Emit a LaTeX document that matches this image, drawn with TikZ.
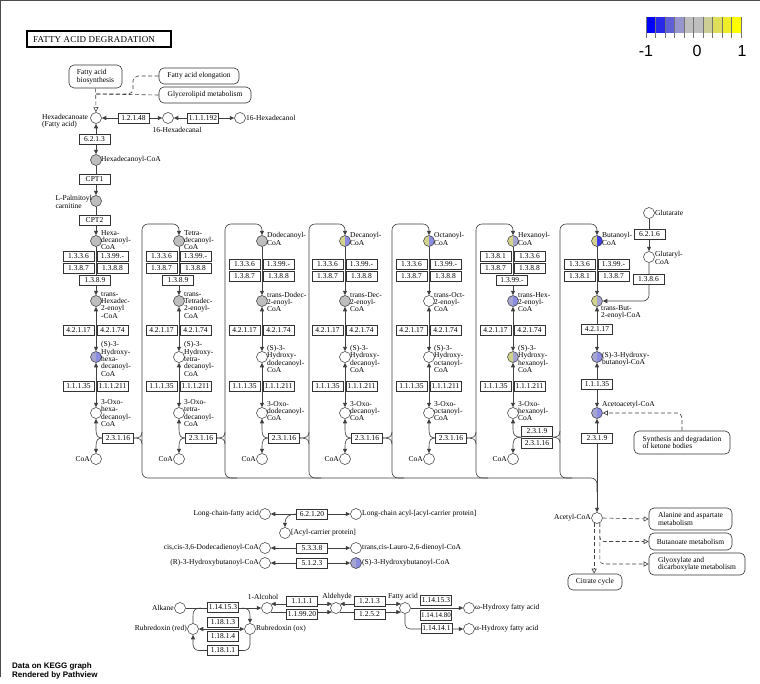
\documentclass[tikz,border=0pt]{standalone}
\usepackage{fontspec}
\setmainfont{Liberation Serif}
\newfontfamily\sansf{Liberation Sans}
\newfontfamily\titlef[LetterSpace=2]{Liberation Serif}
\usetikzlibrary{arrows.meta}
\pgfdeclarelayer{bg}
\pgfdeclarelayer{canvas}
\pgfsetlayers{canvas,bg,main}
\definecolor{kg}{RGB}{190,190,190}
\definecolor{lvA}{RGB}{165,165,208}
\definecolor{lvB}{RGB}{140,140,225}
\definecolor{khA}{RGB}{210,210,140}
\definecolor{bluB}{RGB}{60,60,235}
\definecolor{L1}{RGB}{0,0,255}
\definecolor{L2}{RGB}{40,40,235}
\definecolor{L3}{RGB}{95,95,215}
\definecolor{L4}{RGB}{150,150,205}
\definecolor{L5}{RGB}{190,190,190}
\definecolor{L6}{RGB}{190,190,190}
\definecolor{L7}{RGB}{205,205,150}
\definecolor{L8}{RGB}{222,222,90}
\definecolor{L9}{RGB}{238,238,40}
\definecolor{L10}{RGB}{255,255,0}
\tikzset{
  >={Triangle[length=4.5pt,width=4pt]},
  Opn/.tip={Triangle[open,length=5pt,width=5pt]},
  cpd/.style={circle,draw=black!80,line width=0.5pt,fill=white,minimum size=11pt,inner sep=0pt},
  gy/.style={fill=kg},
  wt/.style={},
  sp/.style 2 args={path picture={\fill[#1] (path picture bounding box.south west) rectangle (path picture bounding box.north);\fill[#2] (path picture bounding box.south) rectangle (path picture bounding box.north east);}},
  hA/.style={sp={lvA}{lvB}},
  kB/.style={sp={khA}{lvB}},
  kA/.style={sp={khA}{lvA}},
  kZ/.style={sp={khA}{bluB}},
  enz/.style={draw=black!80,line width=0.6pt,fill=white,minimum width=31pt,minimum height=10pt,inner sep=0pt,font=\fontsize{7.5}{7.5}\selectfont},
  enzs/.style={enz,font=\fontsize{7}{7}\selectfont},
  lbl/.style={inner sep=0pt,align=left,font=\fontsize{7.5}{7.3}\selectfont},
  mapbox/.style={draw=black!80,line width=0.6pt,rounded corners=5pt,fill=white,align=left,inner sep=0pt,font=\fontsize{7.5}{7.5}\selectfont},
  conn/.style={draw=black!75,line width=0.6pt},
  dsh/.style={draw=black!75,line width=0.6pt,dash pattern=on 4pt off 2.5pt},
}
\begin{document}
\begin{tikzpicture}[x=1pt,y=-1pt]
\useasboundingbox (0,0) rectangle (760,683);
\begin{pgfonlayer}{canvas}
\fill[white] (0,0) rectangle (760,683);
\end{pgfonlayer}
\draw[black!70,line width=1pt] (0.5,677) -- (0.5,0.5) -- (760,0.5);

% title
\node[draw=black,line width=1.2pt,minimum width=144pt,minimum height=16pt,inner sep=0pt] (ttl) at (99,39) {};
\node[anchor=west,inner sep=0pt,font=\titlef\fontsize{9}{9}\selectfont] (ttlt) at (33,39.5) {FATTY ACID DEGRADATION};

% legend
\foreach \c [count=\i from 0] in {L1,L2,L3,L4,L5,L6,L7,L8,L9,L10}
  \fill[\c] (646+\i*9.5,17) rectangle ++(9.5,16);
\foreach \i in {0,...,10}
  \draw[black!55,line width=0.5pt] (646+\i*9.5,17) -- ++(0,21);
\node[font=\sansf\fontsize{16}{16}\selectfont,inner sep=0pt] (lgm) at (646,51) {-1};
\node[font=\sansf\fontsize{16}{16}\selectfont,inner sep=0pt] (lgz) at (697,51) {0};
\node[font=\sansf\fontsize{16}{16}\selectfont,inner sep=0pt] (lgp) at (742,51) {1};

% top section
\node[mapbox,minimum width=53pt,minimum height=23pt] (bio) at (95.5,76.5) {Fatty acid\\biosynthesis};
\node[mapbox,minimum width=80pt,minimum height=16pt] (elong) at (199,76) {Fatty acid elongation};
\node[mapbox,minimum width=92pt,minimum height=16pt] (glyc) at (205,95) {Glycerolipid metabolism};
\node[cpd] (hxa) at (96,118) {};
\node[lbl,anchor=west] (thxa) at (42,121) {Hexadecanoate\\(Fatty acid)};
\node[enz] (r12148) at (133.5,118) {1.2.1.48};
\node[cpd] (hxal) at (168,118) {};
\node[lbl] (thxal) at (177,130) {16-Hexadecanal};
\node[enz] (r111192) at (203,118) {1.1.1.192};
\node[cpd] (hxol) at (240,118) {};
\node[lbl,anchor=west] (thxol) at (246,118) {16-Hexadecanol};
\node[enz] (r6213) at (94.5,139) {6.2.1.3};
\node[cpd,gy] (hdc) at (96,160) {};
\node[lbl,anchor=west] (thdc) at (101,160) {Hexadecanoyl-CoA};
\node[enz] (cpt1) at (94.5,179) {CPT1};
\node[cpd,gy] (palm) at (96,201) {};
\node[lbl,anchor=east] (tpalm) at (92,202) {L-Palmitoyl\\carnitine};
\node[enz] (cpt2) at (94.5,220) {CPT2};

% columns 1-6 compounds
\foreach \i/\x/\fA/\fE/\fH/\dya/\dye/\dyh/\dyo/\lA/\lE/\lH/\lO in {
 1/96/gy/gy/hA/-1/4/2/0/{Hexa-\\decanoyl-\\CoA}/{trans-\\Hexadec-\\2-enoyl\\-CoA}/{(S)-3-\\Hydroxy-\\hexa-\\decanoyl-\\CoA}/{3-Oxo-\\hexa-\\decanoyl-\\CoA},
 2/179/gy/gy/wt/-1/4/2/0/{Tetra-\\decanoyl-\\CoA}/{trans-\\Tetradec-\\2-enoyl-\\CoA}/{(S)-3-\\Hydroxy-\\tetra-\\decanoyl-\\CoA}/{3-Oxo-\\tetra-\\decanoyl-\\CoA},
 3/262/gy/gy/wt/-2/1/2/-2/{Dodecanoyl-\\CoA}/{trans-Dodec-\\2-enoyl-\\CoA}/{(S)-3-\\Hydroxy-\\dodecanoyl-\\CoA}/{3-Oxo-\\dodecanoyl-\\CoA},
 4/345/kB/gy/wt/-2/1/2/-2/{Decanoyl-\\CoA}/{trans-Dec-\\2-enoyl-\\CoA}/{(S)-3-\\Hydroxy-\\decanoyl-\\CoA}/{3-Oxo-\\decanoyl-\\CoA},
 5/429/kB/wt/wt/-2/1/2/-2/{Octanoyl-\\CoA}/{trans-Oct-\\2-enoyl-\\CoA}/{(S)-3-\\Hydroxy-\\octanoyl-\\CoA}/{3-Oxo-\\octanoyl-\\CoA},
 6/513/kA/hA/kA/-2/1/2/-2/{Hexanoyl-\\CoA}/{trans-Hex-\\2-enoyl-\\CoA}/{(S)-3-\\Hydroxy-\\hexanoyl-\\CoA}/{3-Oxo-\\hexanoyl-\\CoA}}
{
 \node[cpd,\fA] (a\i) at (\x,241) {};
 \node[lbl,anchor=west] (ta\i) at (\x+5,241+\dya) {\lA};
 \node[cpd,\fE] (e\i) at (\x,301) {};
 \node[lbl,anchor=west] (te\i) at (\x+5,301+\dye) {\lE};
 \node[cpd,\fH] (h\i) at (\x,357) {};
 \node[lbl,anchor=west] (th\i) at (\x+5,357+\dyh) {\lH};
 \node[cpd] (o\i) at (\x,413) {};
 \node[lbl,anchor=west] (to\i) at (\x+5,413+\dyo) {\lO};
 \node[cpd] (k\i) at (\x,459) {};
 \node[lbl,anchor=east] (tk\i) at (\x-6,459) {CoA};
 \node[enz] (dA\i) at (\x-17.5,330) {4.2.1.17};
 \node[enz] (dB\i) at (\x+16.5,330) {4.2.1.74};
 \node[enz] (yA\i) at (\x-17.5,386) {1.1.1.35};
 \node[enz] (yB\i) at (\x+16.5,386) {1.1.1.211};
}
\foreach \i/\x in {1/96,2/179,3/262,4/345,5/429}
 \node[enz] (g\i) at (\x+22,438) {2.3.1.16};

% dehydrogenase boxes
\node[enz] (b1a) at (78.5,256) {1.3.3.6};
\node[enz] (b1b) at (112.5,256) {1.3.99.-};
\node[enz] (b1c) at (78.5,268) {1.3.8.7};
\node[enz] (b1d) at (112.5,268) {1.3.8.8};
\node[enz] (b1e) at (95,280.5) {1.3.8.9};
\node[enz] (b2a) at (161.5,256) {1.3.3.6};
\node[enz] (b2b) at (195.5,256) {1.3.99.-};
\node[enz] (b2c) at (161.5,268) {1.3.8.7};
\node[enz] (b2d) at (195.5,268) {1.3.8.8};
\node[enz] (b2e) at (178,280.5) {1.3.8.9};
\foreach \i/\x in {3/262,4/345,5/429} {
 \node[enz] (b\i a) at (\x-17.5,264) {1.3.3.6};
 \node[enz] (b\i b) at (\x+16.5,264) {1.3.99.-};
 \node[enz] (b\i c) at (\x-17.5,276.5) {1.3.8.7};
 \node[enz] (b\i d) at (\x+16.5,276.5) {1.3.8.8};
}
\node[enz] (b6a) at (495.5,256) {1.3.8.1};
\node[enz] (b6b) at (529.5,256) {1.3.3.6};
\node[enz] (b6c) at (495.5,268) {1.3.8.7};
\node[enz] (b6d) at (529.5,268) {1.3.8.8};
\node[enz] (b6e) at (512,280.5) {1.3.99.-};
\node[enz] (g6a) at (537,431) {2.3.1.9};
\node[enz] (g6) at (537,443.5) {2.3.1.16};
\coordinate (j6L) at (521.5,437.2);
\coordinate (j6R) at (552.5,437.2);

% column 7
\node[cpd,kZ] (a7) at (597,241) {};
\node[lbl,anchor=west] (ta7) at (602,239) {Butanoyl-\\CoA};
\node[enz] (b7a) at (579.5,264) {1.3.3.6};
\node[enz] (b7b) at (613.5,264) {1.3.99.-};
\node[enz] (b7c) at (579.5,276.5) {1.3.8.1};
\node[enz] (b7d) at (613.5,276.5) {1.3.8.7};
\node[cpd,kA] (e7) at (597,301) {};
\node[lbl,anchor=north west] (te7) at (601,305) {trans-But-\\2-enoyl-CoA};
\node[enz] (dA7) at (597,329) {4.2.1.17};
\node[cpd,hA] (h7) at (597,357) {};
\node[lbl,anchor=west] (th7) at (602,359) {(S)-3-Hydroxy-\\butanoyl-CoA};
\node[enz] (yA7) at (597,384) {1.1.1.35};
\node[cpd,hA] (o7) at (597,413) {};
\node[lbl,anchor=west] (to7) at (602,405) {Acetoacetyl-CoA};
\node[enz] (g7) at (597,438) {2.3.1.9};
\node[mapbox,minimum width=96pt,minimum height=23pt] (keto) at (682,442.5) {Synthesis and degradation\\of ketone bodies};
\node[cpd] (glt) at (649,213) {};
\node[lbl,anchor=west] (tglt) at (655,213) {Glutarate};
\node[enz] (r6216) at (649.5,234) {6.2.1.6};
\node[cpd] (gltc) at (649,257) {};
\node[lbl,anchor=west] (tgltc) at (655,258) {Glutaryl-\\CoA};
\node[enz] (r1386) at (648.5,279.5) {1.3.8.6};

% acetyl-CoA
\node[cpd] (acc) at (597,518) {};
\node[lbl,anchor=east] (tacc) at (591,518) {Acetyl-CoA};
\node[mapbox,minimum width=83pt,minimum height=22pt] (ala) at (690.5,519) {Alanine and aspartate\\metabolism};
\node[mapbox,minimum width=83pt,minimum height=17pt] (but) at (690.5,541.5) {Butanoate metabolism};
\node[mapbox,minimum width=96pt,minimum height=22pt] (gly) at (697,564) {Glyoxylate and\\dicarboxylate metabolism};
\node[mapbox,minimum width=54pt,minimum height=16pt] (cit) at (595,582) {Citrate cycle};

% long-chain section
\node[cpd] (lcfa) at (265,514) {};
\node[lbl,anchor=east] (tlcfa) at (259,514) {Long-chain-fatty acid};
\node[enz] (r62120) at (312,514.5) {6.2.1.20};
\node[cpd] (lcacp) at (356,514) {};
\node[lbl,anchor=west] (tlcacp) at (362,514) {Long-chain acyl-[acyl-carrier protein]};
\node[cpd] (acp) at (285,533) {};
\node[lbl,anchor=west] (tacp) at (291,533) {[Acyl-carrier protein]};
\coordinate (acpj) at (296,514);
\node[cpd] (ddc) at (265,548) {};
\node[lbl,anchor=east] (tddc) at (259,548) {cis,cis-3,6-Dodecadienoyl-CoA};
\node[enz] (r5338) at (312,548.5) {5.3.3.8};
\node[cpd] (lau) at (356,548) {};
\node[lbl,anchor=west] (tlau) at (362,548) {trans,cis-Lauro-2,6-dienoyl-CoA};
\node[cpd] (r3h) at (265,563) {};
\node[lbl,anchor=east] (tr3h) at (259,563) {(R)-3-Hydroxybutanoyl-CoA};
\node[enz] (r5123) at (312,563) {5.1.2.3};
\node[cpd,hA] (s3h) at (356,563) {};
\node[lbl,anchor=west] (ts3h) at (362,563) {(S)-3-Hydroxybutanoyl-CoA};

% bottom section
\node[cpd] (alk) at (180,608) {};
\node[lbl,anchor=east] (talk) at (174,608) {Alkane};
\node[enz] (r114153a) at (223,607.5) {1.14.15.3};
\node[cpd] (alc) at (267,608) {};
\node[lbl] (talc) at (263,597) {1-Alcohol};
\node[cpd] (red) at (193,629) {};
\node[lbl,anchor=east] (tred) at (187,629) {Rubredoxin (red)};
\node[cpd] (ox) at (250,629) {};
\node[lbl,anchor=west] (tox) at (256,629) {Rubredoxin (ox)};
\node[enz] (r11813) at (223,622) {1.18.1.3};
\node[enz] (r11814) at (223,636.5) {1.18.1.4};
\node[enz] (r11811) at (223,650.5) {1.18.1.1};
\node[enz] (r1111) at (302,601.5) {1.1.1.1};
\node[enz] (r119920) at (302,614.5) {1.1.99.20};
\node[cpd] (ald) at (336,608) {};
\node[lbl] (tald) at (337,597) {Aldehyde};
\node[enz] (r1213) at (369.5,601.5) {1.2.1.3};
\node[enz] (r1252) at (369.5,614.5) {1.2.5.2};
\node[cpd] (fa) at (405,608) {};
\node[lbl] (tfa) at (403,597) {Fatty acid};
\node[enz] (r114153b) at (436,600) {1.14.15.3};
\node[enzs] (r1141480) at (436,615) {1.14.14.80};
\node[cpd] (omg) at (469,608) {};
\node[lbl,anchor=west] (tomg) at (475,608) {ω-Hydroxy fatty acid};
\node[enz] (r114141) at (436.5,628.5) {1.14.14.1};
\node[cpd] (alp) at (469,629) {};
\node[lbl,anchor=west] (talp) at (475,629) {α-Hydroxy fatty acid};

% footer
\node[anchor=west,inner sep=0pt,align=left,font=\sansf\bfseries\fontsize{8}{9.8}\selectfont] (foot) at (12,671) {Data on KEGG graph\\Rendered by Pathview};

\begin{pgfonlayer}{bg}
\draw[conn,<->] (hxa) -- (hxal);
\draw[conn,<->] (hxal) -- (hxol);
\draw[conn,<->] (hxa) -- (hdc);
\draw[conn,->] (hdc) -- (palm);
\draw[conn,->] (palm) -- (a1);
\draw[dsh,-Opn] (bio) -- (hxa);
\draw[dsh,rounded corners=5pt] (elong.west) -- (133,76) -- (133,94) -- (96,94);
\draw[dsh] (glyc.west) -- (96,94);

\foreach \i/\x in {1/96,2/179,3/262,4/345,5/429,6/513} {
 \draw[conn,->] (a\i) -- (e\i);
 \draw[conn,<->] (e\i) -- (h\i);
 \draw[conn,<->] (h\i) -- (o\i);
}
\foreach \i/\x/\v in {1/96/142,2/179/225,3/262/309,4/345/392,5/429/476} {
 \draw[conn,<-] (o\i.south) -- (\x,430) .. controls (\x,436) and (\x+2,438) .. (g\i.west);
 \draw[conn,->] (g\i.west) .. controls (\x+2,438) and (\x,440) .. (\x,446) -- (k\i.north);
 \draw[conn] (g\i.east) .. controls (\v-3,438) and (\v,437) .. (\v,432);
 \draw[conn] (g\i.east) .. controls (\v-3,438) and (\v,439) .. (\v,444);
}
\draw[conn,<-] (o6.south) -- (513,429.5) .. controls (513,435) and (515,437.2) .. (j6L);
\draw[conn,->] (j6L) .. controls (515,437.2) and (513,439.5) .. (513,445) -- (k6.north);
\draw[conn] (j6R) .. controls (557,437.2) and (560,436) .. (560,431);
\draw[conn] (j6R) .. controls (557,437.2) and (560,438.5) .. (560,443);

\foreach \v/\nx/\n in {142/179/2,225/262/3,309/345/4,392/429/5,476/513/6,560/597/7}
 \draw[conn,->,rounded corners=6pt] (\v,440) -- (\v,224) -- (\nx,224) -- (a\n.north);
\draw[conn,rounded corners=6pt] (142,440) -- (142,478) -- (597,478) -- (597,492);
\foreach \v in {225,309,392,476,560}
 \draw[conn,rounded corners=6pt] (\v,440) -- (\v,478) -- (\v+12,478);

\draw[conn,->] (a7) -- (e7);
\draw[conn,<->] (e7) -- (h7);
\draw[conn,<->] (h7) -- (o7);
\draw[conn,<->] (o7) -- (acc);
\draw[conn,->] (glt) -- (gltc);
\draw[conn,->,rounded corners=6pt] (gltc.south) -- (649,301) -- (e7.east);
\draw[dsh,-Opn,rounded corners=5pt] (keto.north) -- (keto.north |- o7) -- (o7.east);

\draw[dsh,-Opn] (acc.east) -- (ala.west);
\draw[dsh,-Opn,rounded corners=4pt] (acc.-60) -- (acc.-60 |- but.west) -- (but.west);
\draw[dsh,-Opn,rounded corners=4pt] (acc.-60) -- (acc.-60 |- gly.west) -- (gly.west);
\draw[dsh,-Opn] (acc.-120) -- (acc.-120 |- cit.north);

\draw[conn,<->] (lcfa) -- (lcacp);
\draw[conn,->] (acpj) .. controls (289,514) and (285,517) .. (acp.north);
\draw[conn,<->] (ddc) -- (lau);
\draw[conn,<->] (r3h) -- (s3h);

\draw[conn,->] (alk) -- (alc);
\draw[conn] (201,608) .. controls (195,608) and (193,610) .. (193,616) -- (red.north);
\draw[conn,->] (242,608) .. controls (248,608) and (250,610) .. (250,616) -- (ox.north);
\draw[conn,<-,rounded corners=6pt] (red.south) -- (193,650.5) -- (250,650.5) -- (ox.south);
\draw[conn,<->] (red) -- (ox);
\draw[conn,<->] (alc.north east) -- (ald.north west);
\draw[conn,->] (alc.south east) -- (ald.south west);
\draw[conn,<->] (ald.north east) -- (fa.north west);
\draw[conn,->] (ald.south east) -- (fa.south west);
\draw[conn,->] (fa) -- (omg);
\draw[conn,->,rounded corners=5pt] (fa.south) -- (fa.south |- alp) -- (alp.west);
\end{pgfonlayer}
\end{tikzpicture}
\end{document}
